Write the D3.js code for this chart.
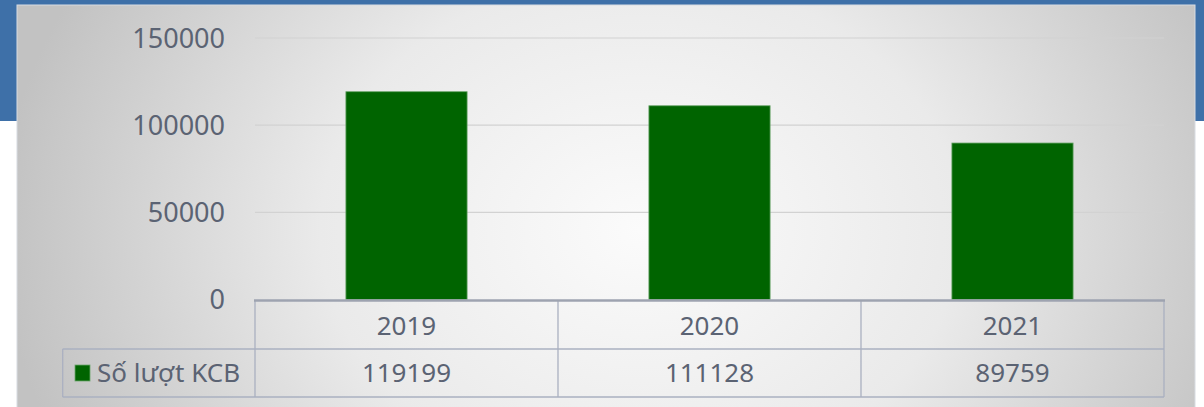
<!DOCTYPE html>
<html><head><meta charset="utf-8">
<script src="https://cdn.jsdelivr.net/npm/d3@7"></script>
<style>html,body{margin:0;padding:0;background:#fff;overflow:hidden}</style>
</head><body>
<svg id="c" width="1204" height="407"></svg>
<script>
const categories = ["2019", "2020", "2021"];
const values = [119199, 111128, 89759];
const seriesName = "Số lượt KCB";
const yTicks = [0, 50000, 100000, 150000];

const svg = d3.select("#c");
const W = 1204, H = 407;
const font = "'Noto Sans', 'Open Sans', sans-serif";
const textColor = "#5b6373";

const defs = svg.append("defs");
const rg = defs.append("radialGradient").attr("id", "bg")
  .attr("gradientUnits", "userSpaceOnUse")
  .attr("cx", 640).attr("cy", 230).attr("r", 640)
  .attr("gradientTransform", "translate(640,230) scale(1,0.8) translate(-640,-230)");
rg.append("stop").attr("offset", "0").attr("stop-color", "#fbfbfb");
rg.append("stop").attr("offset", "0.5").attr("stop-color", "#eaeaea");
rg.append("stop").attr("offset", "1").attr("stop-color", "#c2c2c2");

// blue header band
svg.append("rect").attr("x", 0).attr("y", 0).attr("width", W).attr("height", 121).attr("fill", "#3e70a8");
// panel
svg.append("rect").attr("x", 17).attr("y", 5).attr("width", 1178).attr("height", 410)
  .attr("fill", "url(#bg)").attr("stroke", "#d8dce2").attr("stroke-width", 1);

const x0 = 255, x1 = 1164;
const x = d3.scaleBand().domain(categories).range([x0, x1]).paddingInner(0).paddingOuter(0);
const y = d3.scaleLinear().domain([0, 150000]).range([299.5, 38]);

// gridlines
svg.append("g").selectAll("line").data(yTicks.filter(d => d > 0)).join("line")
  .attr("x1", x0).attr("x2", x1).attr("y1", d => y(d)).attr("y2", d => y(d))
  .attr("stroke", "#d2d2d2").attr("stroke-width", 1.2);

// y tick labels
svg.append("g").selectAll("text").data(yTicks).join("text")
  .attr("x", 225).attr("y", d => y(d)).attr("dy", "0.36em")
  .attr("text-anchor", "end").attr("font-family", font).attr("font-size", 27)
  .attr("fill", textColor).text(d => d);

// bars
const bw = x.bandwidth() * 0.4;
svg.append("g").selectAll("rect").data(values).join("rect")
  .attr("x", (d, i) => x(categories[i]) + (x.bandwidth() - bw) / 2)
  .attr("y", d => y(d)).attr("width", bw).attr("height", d => y(0) - y(d))
  .attr("fill", "#006400").attr("stroke", "#6aa56a").attr("stroke-width", 0.8);

// data table
const rowTop = 300, rowMid = 349, rowBot = 397, legL = 62.7;
const tg = svg.append("g").attr("stroke", "#aab0c0").attr("stroke-width", 1.3).attr("fill", "none");
tg.append("line").attr("x1", legL).attr("x2", x1).attr("y1", rowMid).attr("y2", rowMid);
tg.append("line").attr("x1", legL).attr("x2", x1).attr("y1", rowBot).attr("y2", rowBot);
tg.append("line").attr("x1", legL).attr("x2", legL).attr("y1", rowMid).attr("y2", rowBot);
const vx = categories.map(c => x(c)).concat([x1]);
tg.selectAll("line.v").data(vx).join("line").attr("class", "v")
  .attr("x1", d => d).attr("x2", d => d).attr("y1", rowTop).attr("y2", rowBot);
// axis line
svg.append("line").attr("x1", x0 - 1).attr("x2", x1 + 1).attr("y1", 300.5).attr("y2", 300.5)
  .attr("stroke", "#9ea3b0").attr("stroke-width", 2.5);

// category labels
svg.append("g").selectAll("text").data(categories).join("text")
  .attr("x", d => x(d) + x.bandwidth() / 2).attr("y", (rowTop + rowMid) / 2 + 1).attr("dy", "0.36em")
  .attr("text-anchor", "middle").attr("font-family", font).attr("font-size", 26)
  .attr("fill", textColor).text(d => d);
// value labels
svg.append("g").selectAll("text").data(values).join("text")
  .attr("x", (d, i) => x(categories[i]) + x.bandwidth() / 2).attr("y", (rowMid + rowBot) / 2).attr("dy", "0.36em")
  .attr("text-anchor", "middle").attr("font-family", font).attr("font-size", 26)
  .attr("fill", textColor).text(d => d);
// legend
svg.append("rect").attr("x", 75).attr("y", 365).attr("width", 15).attr("height", 16)
  .attr("fill", "#006400").attr("stroke", "#6aa56a").attr("stroke-width", 0.8);
svg.append("text").attr("x", 97).attr("y", (rowMid + rowBot) / 2).attr("dy", "0.36em")
  .attr("font-family", font).attr("font-size", 26).attr("fill", textColor).text(seriesName);
</script>
</body></html>
